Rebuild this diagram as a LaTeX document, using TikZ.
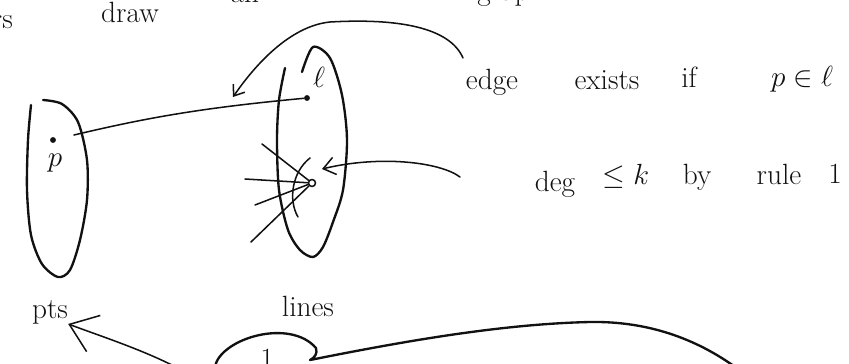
\documentclass[tikz,border=0pt]{standalone}
\usepackage{amsmath,amssymb}
\usepackage{xcolor}
\usepackage{tikz}
\usetikzlibrary{arrows.meta,positioning,calc}
\definecolor{ink}{HTML}{111111}
\tikzset{
  hand/.style={anchor=base, inner sep=0pt, ink, font=\fontsize{25}{30}\selectfont},
  pen/.style={ink, line width=2pt},
  fine/.style={ink, line width=1.3pt},
  dot/.style={circle, fill=ink, inner sep=0pt, minimum size=5pt},
  ring/.style={circle, draw=ink, line width=1.3pt, inner sep=0pt, minimum size=6pt},
  barb/.style={-{Straight Barb[length=#1, width'=0pt 1.5]}},
}

\begin{document}
\begin{tikzpicture}[x=0.03cm, y=-0.03cm, line cap=round, line join=round]
\useasboundingbox (0,0) rectangle (849,363);
\clip (0,0) rectangle (849,363);
% heading, cut off at the top
\node[hand, anchor=base east] (restxt) at (13,28) {rs};
\node[hand] (drawtxt) at (130,22) {draw};
\node[hand] (antxt) at (245,3) {an};
\node[hand] (graphtxt) at (511,1) {graph};
% the two sides
\draw[pen] plot[smooth] coordinates {(43,100) (62,104) (78,122) (87,160) (87,200) (80,240) (70,270) (58,277) (42,264) (31,235) (27,190) (28,140) (31,105)};
\draw[pen] plot[smooth] coordinates {(302,72) (313,47) (330,58) (342,95) (347,140) (343,190) (333,222) (323,247) (313,257) (300,250) (288,230) (279,190) (277,140) (279,100) (285,68)};
\node[hand] (pts) at (50,318) {pts};
\node[hand] (lines) at (308,316) {lines};
% a point, a line, the edge
\node[dot] (p) at (53,140) {};
\node[hand] (plbl) at (55,166) {$p$};
\node[dot] (ell) at (307,98) {};
\node[hand] (elllbl) at (319,87) {$\ell$};
\draw[fine, shorten <=0.55cm] (p) to[bend left=4] (ell);
% one point on many lines
\node[ring] (q) at (312,183) {};
\foreach \x/\y in {262/144, 245/179, 255/205, 251/242}
  \draw[fine] (\x,\y) -- (q);
\draw[fine] (310,158) .. controls (292,172) and (288,200) .. (298,217);
% notes
\node[hand] (edge) at (492,89) {edge};
\node[hand] (exists) at (607,89) {exists};
\node[hand] (iftxt) at (689,87) {if};
\node[hand] (pinl) at (802,86) {$p\in\ell$};
\node[hand] (deg) at (555,191) {deg};
\node[hand] (lek) at (626,184) {$\le k$};
\node[hand] (by) at (697,184) {by};
\node[hand] (rule) at (779,184) {rule};
\node[hand] (rulenum) at (835,183) {1};
\coordinate (edgefrom) at (463,58);
\coordinate (edgeto) at (233,97);
\draw[fine, barb=8pt] (edgefrom) .. controls (450,28) and (400,18) .. (330,22) .. controls (290,26) and (255,65) .. (edgeto);
\coordinate (degfrom) at (460,177);
\draw[fine, barb=10pt] (degfrom) .. controls (440,162) and (380,155) .. ($(q)+(10,-14)$);
% circled 1, cut off at the bottom
\node[hand] (one) at (267,368) {1};
\draw[pen] (215,366) .. controls (222,338) and (290,318) .. (316,348) .. controls (318,354) and (314,358) .. (310,360) .. controls (400,342) and (500,324) .. (590,322) .. controls (650,321) and (700,340) .. (742,372);
\coordinate (onefrom) at (185,372);
\draw[fine, barb=22pt] (onefrom) .. controls (150,352) and (100,336) .. (pts.south east);
\end{tikzpicture}
\end{document}
